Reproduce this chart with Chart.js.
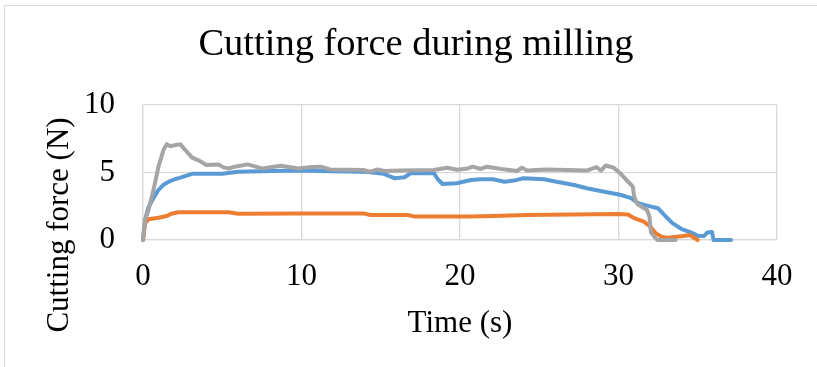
<!DOCTYPE html>
<html>
<head>
<meta charset="utf-8">
<script src="https://cdn.jsdelivr.net/npm/chart.js@4"></script>
<style>
  html, body { margin: 0; padding: 0; background: #fff; }
  #wrap { position: relative; width: 817px; height: 367px; overflow: hidden; }
  #frame { position: absolute; left: 4px; top: 5px; width: 900px; height: 500px;
           border-left: 1.5px solid #d9d9d9; border-top: 1.5px solid #d9d9d9; }
  canvas { position: absolute; left: 0; top: 0; }
</style>
</head>
<body>
<div id="wrap">
  <div id="frame"></div>
  <canvas id="c" width="817" height="367"></canvas>
</div>
<script>
const chartTitle = "Cutting force during milling";
const xTitle = "Time (s)";
const yTitle = "Cutting force (N)";
const xTicks = [0, 10, 20, 30, 40];
const yTicks = [0, 5, 10];

const blueTime = [0,0.13,0.34,0.66,0.97,1.3,1.6,2.0,2.3,3.1,5.0,6.0,8.1,9.8,12.0,14.0,15.2,15.5,15.9,16.5,16.9,18.35,18.6,18.9,19.8,20.7,21.3,22.1,22.8,23.4,24.0,25.3,26.1,27.2,28.0,29.1,30.1,30.8,31.2,31.8,32.5,32.9,33.4,34.0,34.6,35.0,35.4,35.6,35.9,36.0,37.1];
const blueForce = [0,1.5,2.4,3.1,3.7,4.1,4.3,4.5,4.6,4.9,4.9,5.05,5.12,5.15,5.1,5.05,4.9,4.75,4.57,4.65,4.95,4.95,4.5,4.15,4.2,4.44,4.5,4.5,4.32,4.4,4.57,4.5,4.32,4.07,3.83,3.58,3.35,3.1,2.75,2.55,2.35,1.85,1.25,0.8,0.55,0.32,0.3,0.55,0.6,0,0];

const orangeTime = [0,0.13,0.34,0.97,1.5,1.8,2.2,5.4,6.0,10.0,13.9,14.35,16.7,17.1,20.7,22.1,24.25,29.9,30.6,31.0,31.6,32.0,32.35,32.7,33.1,34.1,34.5,35.0];
const orangeForce = [0,1.25,1.53,1.65,1.78,1.95,2.05,2.05,1.95,1.97,1.97,1.85,1.85,1.75,1.75,1.78,1.85,1.92,1.88,1.62,1.36,1.0,0.5,0.25,0.17,0.3,0.37,0];

const grayTime = [0,0.13,0.34,0.66,0.97,1.29,1.5,1.7,2.35,2.66,3.1,3.5,4.0,4.76,5.08,5.4,5.8,6.6,7.5,8.7,9.8,10.4,11.2,11.8,13.9,14.35,14.8,15.2,16.25,18.35,19.2,19.8,20.5,20.8,21.3,21.7,22.6,23.6,23.9,24.25,25.4,26.8,28.0,28.6,28.9,29.2,29.7,30.1,30.6,30.9,31.0,31.2,31.8,31.95,32.05,32.25,32.45,33.6];
const grayForce = [0,1.5,2.2,3.7,5.4,6.67,7.1,6.95,7.1,6.67,6.1,5.9,5.56,5.6,5.38,5.3,5.43,5.6,5.3,5.5,5.3,5.38,5.43,5.23,5.19,5.06,5.23,5.11,5.15,5.19,5.35,5.2,5.3,5.43,5.26,5.43,5.26,5.11,5.35,5.14,5.23,5.19,5.14,5.4,5.14,5.52,5.35,4.95,4.32,3.95,3.15,2.65,2.22,1.73,0.55,0.25,0,0];

const pairs = (xs, ys) => xs.map((x, i) => ({ x: x, y: ys[i] }));
const FONT = "'Liberation Serif', 'Times New Roman', serif";

function series(label, xs, ys, color, order) {
  return {
    label: label,
    data: pairs(xs, ys),
    borderColor: color,
    backgroundColor: color,
    borderWidth: 4,
    pointRadius: 0,
    tension: 0,
    fill: false,
    borderJoinStyle: 'round',
    borderCapStyle: 'round',
    clip: 8,
    order: order
  };
}

// Draws the y-axis title (text from the y scale options) lower than the plot centre, as in the reference
const yTitlePlugin = {
  id: 'yTitleOffset',
  afterDraw(chart) {
    const t = chart.options.scales.y.title;
    const ctx = chart.ctx;
    ctx.save();
    ctx.translate(60, 225);
    ctx.rotate(-Math.PI / 2);
    ctx.fillStyle = '#000';
    ctx.font = "31px " + FONT;
    ctx.textAlign = 'center';
    ctx.textBaseline = 'middle';
    ctx.fillText(t.text, 0, 0);
    ctx.restore();
  }
};

new Chart(document.getElementById('c'), {
  type: 'line',
  data: {
    datasets: [
      series('Series1', blueTime, blueForce, '#5B9BD5', 2),
      series('Series2', orangeTime, orangeForce, '#ED7D31', 1),
      series('Series3', grayTime, grayForce, '#A5A5A5', 0)
    ]
  },
  plugins: [yTitlePlugin],
  options: {
    responsive: false,
    animation: false,
    layout: { padding: { left: 55, right: 40, top: 0, bottom: 0 } },
    plugins: {
      legend: { display: false },
      tooltip: { enabled: false },
      title: {
        display: true,
        text: chartTitle,
        color: '#000',
        font: { family: FONT, size: 38.5, weight: 'normal' },
        padding: { top: 22, bottom: 36.8 }
      }
    },
    scales: {
      x: {
        type: 'linear',
        min: xTicks[0],
        max: xTicks[xTicks.length - 1],
        afterBuildTicks: (s) => { s.ticks = xTicks.map(v => ({ value: v })); },
        afterFit: (s) => { s.height = 127; },
        ticks: { color: '#000', font: { family: FONT, size: 31 }, padding: 18, maxRotation: 0 },
        grid: { color: '#d9d9d9', lineWidth: 1.3, drawTicks: false },
        border: { display: true, color: '#d9d9d9', width: 1.3 },
        title: { display: true, text: xTitle, color: '#000', font: { family: FONT, size: 31 }, padding: 25 }
      },
      y: {
        type: 'linear',
        min: yTicks[0],
        max: yTicks[yTicks.length - 1],
        afterBuildTicks: (s) => { s.ticks = yTicks.map(v => ({ value: v })); },
        afterFit: (s) => { s.width = 88; },
        ticks: { color: '#000', font: { family: FONT, size: 31 }, padding: 28 },
        grid: { color: '#d9d9d9', lineWidth: 1.3, drawTicks: false },
        border: { display: true, color: '#d9d9d9', width: 1.3 },
        title: { display: false, text: yTitle, color: '#000', font: { family: FONT, size: 31 } }
      }
    }
  }
});
</script>
</body>
</html>
